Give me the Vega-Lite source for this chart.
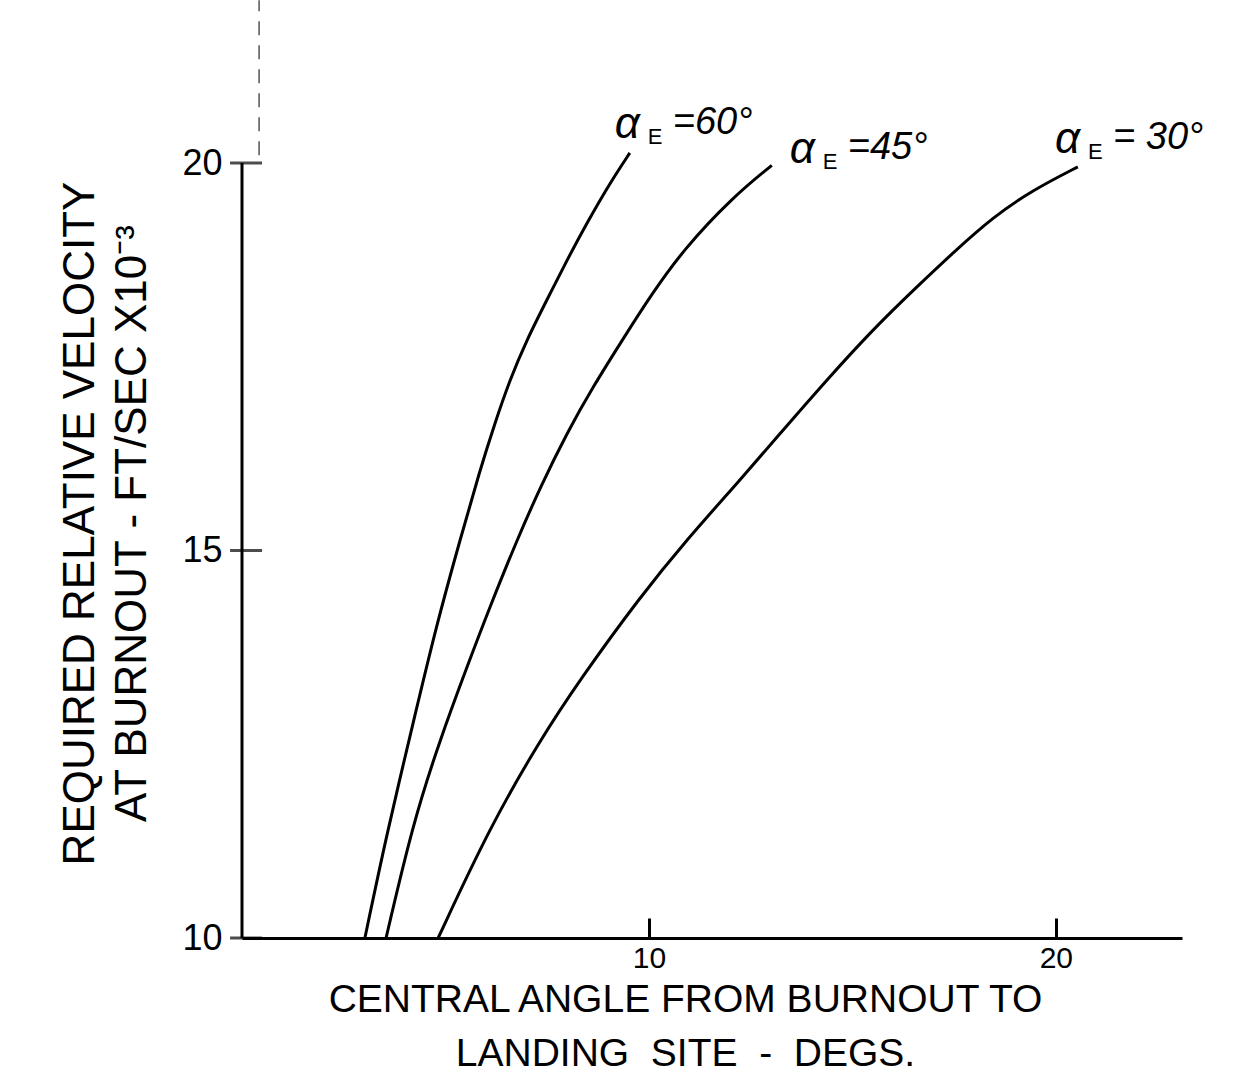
{
  "$schema": "https://vega.github.io/schema/vega-lite/v6.json",
  "width": 940,
  "height": 930,
  "autosize": {"type": "none"},
  "padding": {"left": 242, "top": 8, "right": 51, "bottom": 139},
  "background": "white",
  "config": {"view": {"stroke": null}, "font": "Liberation Sans"},
  "datasets": {
    "curves": [
      {"curve": "60", "x": 3.02, "y": 10.0}, {"curve": "60", "x": 3.56, "y": 11.35}, {"curve": "60", "x": 4.18, "y": 12.72},
      {"curve": "60", "x": 4.79, "y": 14.06}, {"curve": "60", "x": 5.36, "y": 15.14}, {"curve": "60", "x": 5.85, "y": 16.04},
      {"curve": "60", "x": 6.2, "y": 16.62}, {"curve": "60", "x": 6.58, "y": 17.2}, {"curve": "60", "x": 7.0, "y": 17.72},
      {"curve": "60", "x": 7.49, "y": 18.23}, {"curve": "60", "x": 7.99, "y": 18.75}, {"curve": "60", "x": 8.48, "y": 19.23},
      {"curve": "60", "x": 9.04, "y": 19.74}, {"curve": "60", "x": 9.53, "y": 20.13},
      {"curve": "45", "x": 3.54, "y": 10.0}, {"curve": "45", "x": 4.2, "y": 11.48}, {"curve": "45", "x": 4.86, "y": 12.55},
      {"curve": "45", "x": 5.53, "y": 13.5}, {"curve": "45", "x": 6.09, "y": 14.27}, {"curve": "45", "x": 6.76, "y": 15.14},
      {"curve": "45", "x": 7.36, "y": 15.85}, {"curve": "45", "x": 7.99, "y": 16.52}, {"curve": "45", "x": 8.62, "y": 17.11},
      {"curve": "45", "x": 9.46, "y": 17.81}, {"curve": "45", "x": 10.02, "y": 18.27}, {"curve": "45", "x": 10.84, "y": 18.88},
      {"curve": "45", "x": 12.06, "y": 19.56}, {"curve": "45", "x": 13.02, "y": 19.97},
      {"curve": "30", "x": 4.82, "y": 10.0}, {"curve": "30", "x": 6.09, "y": 11.43}, {"curve": "30", "x": 7.32, "y": 12.55},
      {"curve": "30", "x": 8.3, "y": 13.33}, {"curve": "30", "x": 9.78, "y": 14.4}, {"curve": "30", "x": 10.93, "y": 15.14},
      {"curve": "30", "x": 12.24, "y": 15.91}, {"curve": "30", "x": 13.29, "y": 16.55}, {"curve": "30", "x": 14.37, "y": 17.2},
      {"curve": "30", "x": 15.5, "y": 17.85}, {"curve": "30", "x": 16.58, "y": 18.4}, {"curve": "30", "x": 17.47, "y": 18.84},
      {"curve": "30", "x": 18.45, "y": 19.3}, {"curve": "30", "x": 19.43, "y": 19.65}, {"curve": "30", "x": 20.54, "y": 19.95}
    ],
    "labels": [
      {"curve": "60", "x": 9.16, "y": 20.49, "greek": "α", "sub": "E", "eq": "=60°"},
      {"curve": "45", "x": 13.46, "y": 20.17, "greek": "α", "sub": "E", "eq": "=45°"},
      {"curve": "30", "x": 19.98, "y": 20.3, "greek": "α", "sub": "E", "eq": "= 30°"}
    ],
    "yticks": [{"v": 10}, {"v": 15}, {"v": 20}],
    "yaxis": [{"x": 0, "y": 10, "y2": 20}],
    "ydash": [{"x": 0.42, "y": 20.1, "y2": 22.1}]
  },
  "layer": [
    {
      "data": {"name": "curves"},
      "mark": {"type": "line", "interpolate": "basis", "strokeWidth": 3, "color": "black"},
      "encoding": {
        "x": {
          "field": "x", "type": "quantitative",
          "scale": {"domain": [0, 23.1], "nice": false, "zero": false},
          "axis": {
            "values": [10, 20], "grid": false, "format": "d",
            "domain": true, "domainColor": "black", "domainWidth": 3,
            "ticks": true, "tickSize": -20, "tickWidth": 3, "tickColor": "black",
            "labelFontSize": 30, "labelColor": "black", "labelPadding": 25,
            "title": ["CENTRAL ANGLE FROM BURNOUT TO", "LANDING\u00a0\u00a0SITE\u00a0\u00a0-\u00a0\u00a0DEGS."],
            "titleFontSize": 39, "titleFontWeight": "normal", "titleColor": "black",
            "titleX": 443, "titleY": 42, "titleBaseline": "top", "titleLineHeight": 54
          }
        },
        "y": {
          "field": "y", "type": "quantitative",
          "scale": {"domain": [10, 22], "nice": false, "zero": false},
          "axis": {
            "values": [10, 15, 20], "grid": false, "format": "d",
            "domain": false, "ticks": false,
            "labelFontSize": 36, "labelColor": "black", "labelPadding": 20,
            "title": ["REQUIRED RELATIVE VELOCITY", "AT BURNOUT - FT/SEC X10⁻³"],
            "titleFontSize": 44, "titleFontWeight": "normal", "titleColor": "black",
            "titleAngle": -90, "titleX": -140, "titleY": 515, "titleBaseline": "bottom", "titleLineHeight": 52
          }
        },
        "detail": {"field": "curve"}
      }
    },
    {
      "data": {"name": "yaxis"},
      "mark": {"type": "rule", "strokeWidth": 3, "color": "black"},
      "encoding": {
        "x": {"field": "x", "type": "quantitative"},
        "y": {"field": "y", "type": "quantitative"},
        "y2": {"field": "y2"}
      }
    },
    {
      "data": {"name": "ydash"},
      "mark": {"type": "rule", "strokeWidth": 1.5, "color": "#555", "strokeDash": [14, 10]},
      "encoding": {
        "x": {"field": "x", "type": "quantitative"},
        "y": {"field": "y", "type": "quantitative"},
        "y2": {"field": "y2"}
      }
    },
    {
      "data": {"name": "yticks"},
      "mark": {"type": "tick", "orient": "horizontal", "size": 32, "thickness": 3, "color": "black"},
      "encoding": {
        "x": {"datum": 0.1, "type": "quantitative"},
        "y": {"field": "v", "type": "quantitative"}
      }
    },
    {
      "data": {"name": "labels"},
      "mark": {"type": "text", "align": "left", "baseline": "middle", "fontSize": 44, "fontStyle": "italic", "color": "black"},
      "encoding": {
        "x": {"field": "x", "type": "quantitative"},
        "y": {"field": "y", "type": "quantitative"},
        "text": {"field": "greek"}
      }
    },
    {
      "data": {"name": "labels"},
      "mark": {"type": "text", "align": "left", "baseline": "middle", "fontSize": 22, "dx": 33, "dy": 12, "color": "black"},
      "encoding": {
        "x": {"field": "x", "type": "quantitative"},
        "y": {"field": "y", "type": "quantitative"},
        "text": {"field": "sub"}
      }
    },
    {
      "data": {"name": "labels"},
      "mark": {"type": "text", "align": "left", "baseline": "middle", "fontSize": 38, "fontStyle": "italic", "dx": 58, "dy": -2, "color": "black"},
      "encoding": {
        "x": {"field": "x", "type": "quantitative"},
        "y": {"field": "y", "type": "quantitative"},
        "text": {"field": "eq"}
      }
    }
  ]
}
